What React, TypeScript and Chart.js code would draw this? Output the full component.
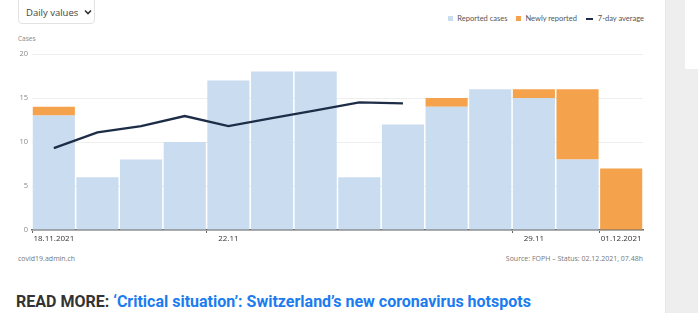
import React, { useEffect, useRef } from "react";
import { Chart, registerables } from "chart.js";

Chart.register(...registerables);

const dates = ["18.11.2021", "19.11", "20.11", "21.11", "22.11", "23.11", "24.11", "25.11", "26.11", "27.11", "28.11", "29.11", "30.11", "01.12.2021"];
const shownTickIndices = [0, 4, 11, 13];
const reportedCases = [13, 6, 8, 10, 17, 18, 18, 6, 12, 14, 16, 15, 8, 0];
const newlyReported = [1, 0, 0, 0, 0, 0, 0, 0, 0, 1, 0, 1, 8, 7];
const sevenDayAverage: (number | null)[] = [9.3, 11.1, 11.8, 12.95, 11.8, 12.7, 13.6, 14.5, 14.4, null, null, null, null, null];
const yTicks = [0, 5, 10, 15, 20];

const BLUE = "#cadcf0";
const ORANGE = "#f4a24b";
const NAVY = "#1e2d47";

export default function App() {
  const ref = useRef<HTMLCanvasElement>(null);
  useEffect(() => {
    if (!ref.current) return;
    const chart = new Chart(ref.current, {
      type: "bar",
      data: {
        labels: dates,
        datasets: [
          {
            type: "line",
            label: "7-day average",
            data: sevenDayAverage,
            borderColor: NAVY,
            borderWidth: 2.3,
            pointRadius: 0,
            tension: 0,
            stack: "avg",
            order: 0,
            spanGaps: false,
          } as any,
          {
            label: "Reported cases",
            data: reportedCases,
            backgroundColor: BLUE,
            stack: "cases",
            order: 1,
            barPercentage: 0.965,
            categoryPercentage: 1,
          },
          {
            label: "Newly reported",
            data: newlyReported,
            backgroundColor: ORANGE,
            stack: "cases",
            order: 1,
            barPercentage: 0.965,
            categoryPercentage: 1,
          },
        ],
      },
      options: {
        animation: false,
        responsive: false,
        maintainAspectRatio: false,
        layout: { padding: { top: 10, right: 17, left: 0, bottom: 0 } },
        plugins: { legend: { display: false }, tooltip: { enabled: false } },
        scales: {
          x: {
            stacked: true,
            afterFit: (s: any) => { s.height = 20; },
            grid: {
              drawOnChartArea: false,
              tickLength: 3,
              color: (c: any) => (shownTickIndices.includes(c.index) ? "#666" : "rgba(0,0,0,0)"),
            },
            border: { color: "#6b6b6b", width: 1.5 },
            ticks: {
              autoSkip: false,
              maxRotation: 0,
              padding: 1,
              color: "#333",
              font: { family: "Open Sans", size: 8 },
              callback: (_v: any, i: number) => (shownTickIndices.includes(i) ? dates[i] : ""),
            },
          },
          y: {
            stacked: true,
            min: yTicks[0],
            max: yTicks[yTicks.length - 1],
            afterFit: (s: any) => { s.width = 32; },
            afterBuildTicks: (s: any) => { s.ticks = yTicks.map((v) => ({ value: v })); },
            grid: { color: "#eeeeee", drawTicks: false, lineWidth: 1 },
            border: { display: false },
            ticks: {
              padding: 4,
              color: "#8a8a8a",
              font: { family: "Open Sans", size: 7.5 },
            },
          },
        },
      },
    });
    return () => chart.destroy();
  }, []);

  const small = { fontFamily: "Open Sans", fontSize: 7, color: "#777" } as const;

  return (
    <div style={{ position: "fixed", left: 0, top: 0, width: 698, height: 313, background: "#fff", overflow: "hidden" }}>
      {/* right grey panel */}
      <div style={{ position: "absolute", left: 665, top: 0, width: 33, height: 313, background: "#eeeeee", borderLeft: "1px solid #e6e6e6" }} />
      <div style={{ position: "absolute", left: 685, top: 0, width: 13, height: 69, background: "#fff" }} />

      {/* dropdown */}
      <div style={{ position: "absolute", left: 18, top: -6, width: 77, height: 30, border: "1px solid #e2e2e2", borderRadius: 4, boxSizing: "border-box", fontFamily: "Open Sans", fontSize: 9.5, color: "#444", display: "flex", alignItems: "center", paddingLeft: 7, paddingTop: 6, whiteSpace: "nowrap" }}>
        <span>Daily values</span>
        <svg width="8" height="6" style={{ marginLeft: 6, flex: "none" }} viewBox="0 0 8 6">
          <path d="M1 1.5 L4 4.5 L7 1.5" stroke="#333" strokeWidth="1.6" fill="none" />
        </svg>
      </div>

      {/* legend */}
      <div style={{ position: "absolute", right: 54, top: 14, display: "flex", alignItems: "center", fontFamily: "Lato", fontSize: 7.5, color: "#555", whiteSpace: "nowrap" }}>
        <span style={{ width: 5, height: 5, background: BLUE, display: "inline-block", marginRight: 4 }} />
        <span style={{ marginRight: 9 }}>Reported cases</span>
        <span style={{ width: 5, height: 5, background: ORANGE, display: "inline-block", marginRight: 4 }} />
        <span style={{ marginRight: 9 }}>Newly reported</span>
        <span style={{ width: 7, height: 2, background: NAVY, display: "inline-block", marginRight: 5 }} />
        <span>7-day average</span>
      </div>

      <div style={{ position: "absolute", left: 18, top: 34, ...small, fontSize: 6.5, color: "#888" }}>Cases</div>

      <canvas ref={ref} width={660} height={206} style={{ position: "absolute", left: 0, top: 44, width: 660, height: 206 }} />

      <div style={{ position: "absolute", left: 18, top: 254, ...small }}>covid19.admin.ch</div>
      <div style={{ position: "absolute", right: 55, top: 254, ...small }}>Source: FOPH – Status: 02.12.2021, 07.48h</div>

      <div style={{ position: "absolute", left: 16, top: 292, fontFamily: "Roboto", fontWeight: 700, fontSize: 16, lineHeight: "19px", whiteSpace: "nowrap", letterSpacing: 0 }}>
        <span style={{ color: "#333" }}>READ MORE: </span>
        <span style={{ color: "#1b7cf0" }}>‘Critical situation’: Switzerland’s new coronavirus hotspots</span>
      </div>
    </div>
  );
}
